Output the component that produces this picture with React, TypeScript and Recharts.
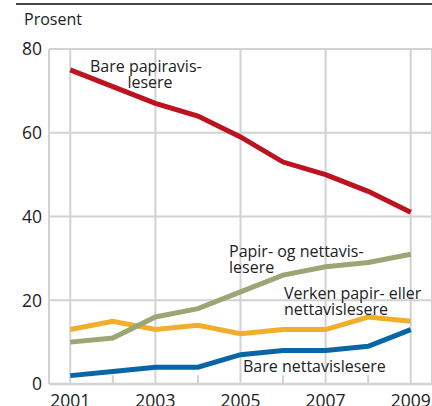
import {LineChart, Line, XAxis, YAxis, CartesianGrid, ReferenceLine} from 'recharts'

const years = [2001, 2002, 2003, 2004, 2005, 2006, 2007, 2008, 2009]
const barePapir = [75, 71, 67, 64, 59, 53, 50, 46, 41]
const papirOgNett = [10, 11, 16, 18, 22, 26, 28, 29, 31]
const verken = [13, 15, 13, 14, 12, 13, 13, 16, 15]
const bareNett = [2, 3, 4, 4, 7, 8, 8, 9, 13]
const yTicks = [0, 20, 40, 60, 80]
const labelYears = [2001, 2003, 2005, 2007, 2009]
const minorYears = [2002, 2004, 2006, 2008]

const GRID = '#d2d2d2'
const FONT = '"Open Sans", "DejaVu Sans", sans-serif'
const X_DOMAIN: [number, number] = [2000.5, 2009.5]

const rows = years.map((y, i) => ({
    year: y,
    barePapir: barePapir[i],
    papirOgNett: papirOgNett[i],
    verken: verken[i],
    bareNett: bareNett[i]
}))

function XTick(props: any){
    const {x, y, payload} = props
    return <text x={x} y={y + 23} textAnchor='middle' fontSize={17.5} fill='#222' fontFamily={FONT}>{payload.value}</text>
}

function YTick(props: any){
    const {y, payload} = props
    return <text x={42} y={y} dy='0.36em' textAnchor='end' fontSize={17.5} fill='#222' fontFamily={FONT}>{payload.value}</text>
}

export default function App(){
    return(
        <div style={{position: 'absolute', left: 0, top: 0, width: 432, height: 406, overflow: 'hidden', background: '#fff', fontFamily: FONT}}>
            <div style={{position: 'absolute', left: 16, top: 3, width: 416, height: 2, background: '#4a4a4a'}} />
            <div style={{position: 'absolute', left: 24, top: 8, fontSize: 16, color: '#222'}}>Prosent</div>
            <LineChart width={432} height={406} data={rows} margin={{top: 49, right: 0, left: 0, bottom: 0}}>
                <CartesianGrid stroke={GRID} strokeWidth={2} />
                {minorYears.map((y) => (
                    <ReferenceLine key={y} segment={[{x: y, y: 0}, {x: y, y: 2.1}]} stroke={GRID} strokeWidth={2} />
                ))}
                <XAxis dataKey='year' type='number' domain={X_DOMAIN} ticks={labelYears} height={22}
                    tickSize={0} tickLine={false} tickMargin={0} interval={0}
                    axisLine={{stroke: GRID, strokeWidth: 2.5}} tick={<XTick />} />
                <YAxis domain={[0, 80]} ticks={yTicks} width={49} tickSize={0} tickLine={false}
                    axisLine={{stroke: GRID, strokeWidth: 2}} tick={<YTick />} />
                <Line dataKey='verken' stroke='#f1ae2d' strokeWidth={5} dot={false} isAnimationActive={false} />
                <Line dataKey='papirOgNett' stroke='#9ca574' strokeWidth={5} dot={false} isAnimationActive={false} />
                <Line dataKey='bareNett' stroke='#0966a6' strokeWidth={5} dot={false} isAnimationActive={false} />
                <Line dataKey='barePapir' stroke='#bd1320' strokeWidth={5} dot={false} isAnimationActive={false} />
            </LineChart>
            <svg width={432} height={406} style={{position: 'absolute', left: 0, top: 0, pointerEvents: 'none'}}
                fontFamily={FONT} fontSize={16} fill='#222'>
                <text x={90} y={72}>Bare papiravis-</text>
                <text x={150} y={88} textAnchor='middle'>lesere</text>
                <text x={229} y={257}>Papir- og nettavis-</text>
                <text x={229} y={273}>lesere</text>
                <text x={284} y={299}>Verken papir- eller</text>
                <text x={284} y={315}>nettavislesere</text>
                <text x={243} y={372}>Bare nettavislesere</text>
            </svg>
        </div>
    )
}
